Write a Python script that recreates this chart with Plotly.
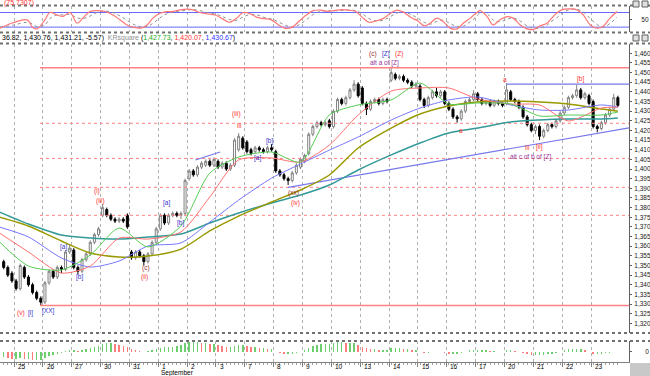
import plotly.graph_objects as go

W, H = 650, 376

# ---------------- data ----------------
opens = [1352,1349,1346,1342,1338,1349,1344,1340,1336,1333,
         1331,1341,1347,1344,1349,1348,1357,
         1358,1349,1347,1353,1356,1362,1366,
         1376,1379,1376,1374,1373,1374,1376,
         1357,1354,1357,1355,1352,1356,1362,
         1369,1376,1372,1376,1377,1376,1377,
         1395,1399,1397,1401,1402,1404,1402,
         1404,1401,1403,1400,1402,1410,1416,
         1414,1410,1409,1411,1410,1409,1411,
         1409,1399,1397,1395,1394,1398,1401,
         1404,1408,1418,1422,1424,1423,1425,
         1422,1430,1436,1434,1437,1441,1444,
         1442,1434,1431,1435,1436,1434,1436,
         1446,1449,1447,1448,1446,1445,1443,
         1443,1436,1433,1437,1440,1438,1440,
         1434,1431,1427,1426,1430,1435,1436,
         1439,1436,1434,1435,1433,1435,1434,
         1434,1440,1436,1435,1432,1427,1423,
         1420,1422,1417,1420,1423,1422,1425,
         1429,1432,1437,1438,1441,1437,1438,
         1435,1422,1421,1424,1428,1431,1437]
highs = [1353,1350,1347,1343,1351,1350,1345,1341,1337,1334,
         1342,1348,1348,1350,1350,1358,1361,
         1359,1350,1354,1357,1363,1367,1370,
         1382,1380,1377,1375,1375,1375,1377,
         1358,1358,1358,1356,1357,1363,1370,
         1377,1377,1377,1378,1378,1378,1395,
         1400,1400,1402,1404,1405,1405,1406,
         1405,1404,1404,1403,1416,1418.6,1417,
         1415,1411,1412,1412,1411,1412,1413,
         1410,1400,1398,1396,1399,1403,1406,
         1408,1419,1423,1425,1425,1425,1426,
         1431,1437,1437,1438,1442,1446,1445,
         1443,1435,1436,1437,1437,1437,1437,
         1452.3,1450,1449,1449,1447,1446,1445,
         1444,1437,1438,1441,1442,1441,1441,
         1435,1432,1428,1431,1436,1437,1441,
         1440,1437,1436,1436,1436,1436,1435,
         1444.5,1441,1437,1436,1433,1428,1424,
         1423,1423,1421,1424,1424,1426,1430,
         1433,1438,1439,1443.5,1442,1440,1439,
         1436,1423,1425,1429,1432,1439,1438]
lows = [1348,1344,1341,1337,1337,1343,1339,1335,1332,1329.3,
        1330,1340,1343,1343,1346,1347,1356,
        1348,1345.5,1346,1352,1355,1361,1365,
        1375,1375,1373,1372,1372,1372,1369,
        1353,1353,1354,1350,1351,1355,1361,
        1368,1371,1371,1375,1375,1374,1376,
        1394,1396,1396,1400,1401,1401,1401,
        1400,1400,1399,1399,1401,1409,1410,
        1408,1407,1408,1409,1408,1408,1409,
        1398,1396,1394,1391.7,1393,1397,1400,
        1403,1407,1417,1421,1422,1422,1421,
        1421,1429,1433,1433,1436,1440,1437,
        1433,1428,1430,1434,1433,1433,1434,
        1445,1446,1446,1445,1444,1442,1442,
        1435,1431.6,1432,1436,1437,1437,1433,
        1430,1426,1424,1425,1429,1434,1435,
        1435,1433,1433,1432,1432,1433,1432,
        1433,1435,1434,1431,1426,1422,1419,
        1418,1415,1416,1419,1421,1421,1424,
        1428,1431,1436,1437,1436,1436,1433,
        1421,1419,1420,1423,1427,1430,1432]
closes = [1349,1345,1342,1338,1350,1344,1340,1336,1333,1331,
          1341,1347,1344,1349,1348,1357,1359,
          1349,1347,1353,1356,1362,1366,1369,
          1380,1376,1374,1373,1374,1373,1370,
          1354,1357,1355,1352,1356,1362,1369,
          1376,1372,1376,1377,1376,1377,1394,
          1399,1397,1401,1403,1404,1402,1405,
          1401,1403,1400,1402,1415,1417,1411,
          1409,1408,1411,1410,1409,1411,1410,
          1399,1397,1395,1394,1398,1402,1405,
          1407,1418,1422,1424,1423,1424,1422,
          1430,1436,1434,1437,1441,1444,1438,
          1434,1431,1435,1436,1434,1436,1435,
          1450,1447,1448,1446,1445,1443,1444,
          1436,1433,1437,1440,1438,1440,1434,
          1431,1427,1426,1430,1435,1436,1439,
          1436,1434,1435,1433,1435,1434,1433,
          1441,1436,1435,1432,1427,1423,1420,
          1422,1417,1420,1423,1422,1425,1429,
          1432,1437,1438,1441,1437,1439,1434,
          1422,1421,1424,1428,1431,1437,1433]

# moving averages sampled at bar positions
ma_bar = [-1, 6, 14, 21, 28, 35, 43, 50, 57, 65, 72, 79, 86, 94, 101, 108, 115, 123, 130, 137, 145, 149]
ma_teal = [1377.7,1371.5,1365.8,1364.2,1363.7,1364.8,1366.3,1372.0,1377.2,1382.4,1386.5,1391.7,1399.5,1407.3,1413.5,1418.7,1421.2,1424.4,1425.4,1425.9,1425.9,1426.4]
ma_olive = [1375.1,1370.5,1362.7,1356.5,1354.4,1354.9,1358.5,1367.9,1375.6,1382.9,1389.1,1396.9,1410.9,1421.2,1428.5,1432.7,1434.7,1435.2,1434.7,1433.7,1431.1,1430.0]
ma_blue = [1369.9,1364.8,1353.9,1349.2,1352.3,1360.1,1361.7,1372.5,1383.9,1395.3,1402.6,1409.8,1416.6,1425.4,1431.6,1435.8,1437.3,1433.2,1430.6,1430.6,1433.2,1432.1]
ma_red = [1366.8,1357.0,1346.1,1349.7,1364.2,1363.7,1367.4,1385.5,1404.7,1405.7,1403.6,1412.4,1428.0,1440.4,1442.0,1442.0,1436.3,1433.7,1433.2,1424.9,1431.6,1432.1]
ma_green = [1362.2,1349.7,1347.7,1355.4,1369.4,1359.6,1370.5,1397.9,1406.2,1408.8,1403.6,1428.0,1433.2,1435.8,1444.6,1433.7,1434.2,1433.7,1427.5,1428.0,1428.0,1429.5]

# horizontal levels
red_solid_levels = [1452.5, 1329.2]
red_dot_levels = [1423.7, 1405.5, 1390.5, 1376.0]
level_start_bar = 8.8
blue_level = 1444.0
blue_level_start = 122
# trendlines (bar, price)
trend_long_bar = [69, 151.7]
trend_long_price = [1390.5, 1421.3]
trend_short_bar = [46.5, 52.5]
trend_short_price = [1404.7, 1408.8]

# stochastic
stoch_bar = [-0.9,2.3,5.7,7.1,8.1,10,11.2,12.9,14.4,16.1,17.8,19.2,20.9,22.6,24.6,26.5,28.2,29.9,31.4,33.1,
             34.8,36.2,37.9,39.6,41.1,42.8,44.5,45.9,47.6,49.3,51.3,53,54.7,56.4,58.1,59.8,61.5,63.2,64.9,66.6,
             68.3,70,71.7,73.4,75.1,76.8,78.5,80.2,81.9,83.6,85.3,87,88.6,90.3,92,93.7,95.4,97.1,98.8,100.5,
             102,103.4,105.1,106.6,108.3,110,111.5,113.2,114.8,115.6,117.3,118.7,120.4,122.1,123.6,125.3,127,128.4,130.1,131.8,
             132.6,134.3,135.7,137.4,139.1,140.6,142.3,144,145.4,147.1,148.8]
stoch_k = [16,38,50,17,13,50,80,70,64,80,36,57,84,88,84,70,50,29,20,16,
           29,57,77,84,84,91,94,91,80,75,70,55,40,55,80,75,60,55,50,30,
           15,20,45,70,88,90,85,88,92,90,85,60,40,45,55,75,90,80,60,45,
           25,36,57,43,16,13,36,57,80,88,63,29,50,63,57,29,13,10,25,36,
           50,80,93,95,91,70,29,16,23,57,84]
stoch_d = [20,28,40,32,22,30,55,70,70,72,58,55,65,80,86,80,66,48,32,22,
           22,36,58,75,82,86,90,92,88,80,74,64,52,48,62,72,70,60,54,42,
           28,20,30,50,72,85,87,87,88,90,88,75,55,46,48,62,78,82,72,56,
           40,32,44,48,35,22,24,42,65,80,75,50,42,52,58,45,25,15,16,28,
           40,60,80,92,93,82,55,30,20,35,62]
stoch_levels = [80, 20]

# histogram
hist_vals = [-5,-6,-7,-7,-6,-7,-7,-8,-8,-8,
             -6,-4,-3,-2,-1,0.5,1,
             1,0.5,1,2,3,4,5,
             7,8,8,7,6,5,4,
             2,1,0.5,0,0.5,1,2,
             3,4,4,4,5,6,8,
             9,9,9,8,8,7,7,
             6,5,4,4,5,6,6,
             5,4,4,3,3,2,2,
             0,-1,-2,-2,-2,-1,0,
             1,3,5,6,7,7,7,
             8,9,9,8,8,8,6,
             4,3,2,2,1,1,1,
             3,3,3,2,2,1,1,
             0,-1,-1,0,0,0,-1,
             -2,-2,-2,-1,0,1,1,
             1,1,1,0.5,0.5,0,0,
             1,1,0.5,0,-1,-2,-3,
             -3,-3,-3,-2,-2,-1,0,
             1,2,2,2,2,1,0,
             -2,-2,-2,-1,-1,0,0]

day_labels = ["25","26","27","30","31","1","2","3","7","8","9","10","13","14","15","16","17","20","21","22","23"]
month_label = "September"
month_label_day = 5

price_ticks = list(range(1320, 1461, 5))

wave_labels = [
    ("(c)", 89.6, 1459.6, "#993333"), ("[Z]", 92.8, 1459.6, "#3333cc"), ("(Z)", 95.9, 1459.6, "#ff3333"),
    ("alt a of [Z]", 92.5, 1454.9, "#993399"),
    ("(iii)", 56.4, 1428.5, "#ff3333"), ("iii", 57.2, 1422.3, "#ff3333"),
    ("[b]", 64.6, 1414.5, "#3333cc"), ("[a]", 61.5, 1405.7, "#3333cc"),
    ("a", 121.6, 1446.6, "#ff3333"), ("[b]", 140.0, 1446.5, "#ff3333"), ("a", 111.0, 1420.2, "#ff3333"),
    ("iii", 127.0, 1411.2, "#ff3333"), ("[ii]", 130.1, 1411.2, "#ff3333"),
    ("alt c of b of [Z]", 127.7, 1406.2, "#993399"),
    ("(i)", 22.6, 1388.6, "#ff3333"), ("(iii)", 23.4, 1383.4, "#ff3333"),
    ("[a]", 39.4, 1382.4, "#3333cc"), ("[b]", 42.8, 1372.0, "#3333cc"),
    ("[a]", 14.4, 1359.6, "#3333cc"), ("[b]", 18.3, 1344.0, "#3333cc"),
    ("(c)", 34.5, 1348.7, "#993333"), ("(ii)", 34.1, 1344.0, "#ff3333"),
    ("(v)", 4.2, 1325.4, "#ff3333"), ("[i]", 6.4, 1325.4, "#3333cc"), ("[XX]", 10.8, 1326.4, "#3333cc"),
    ("(xx)", 70.2, 1387.6, "#993333"), ("(iv)", 70.7, 1382.4, "#ff3333"),
]

# ---------------- figure ----------------
FONT = "Liberation Sans"
n = len(closes)
bars = list(range(n))
day_bounds = [2.5 + 7 * k for k in range(len(day_labels))]
XR = [-0.9, 151.7]
XD = [0, 629 / W]

def yp(p):
    return 1 - p / H

fig = go.Figure()

for lv in red_solid_levels:
    fig.add_trace(go.Scatter(x=[level_start_bar, XR[1]], y=[lv, lv], mode="lines",
                             line=dict(color="#ff8080", width=1.5), xaxis="x", yaxis="y", hoverinfo="skip"))
for lv in red_dot_levels:
    fig.add_trace(go.Scatter(x=[level_start_bar, XR[1]], y=[lv, lv], mode="lines",
                             line=dict(color="#ff8080", width=1, dash="dot"), xaxis="x", yaxis="y", hoverinfo="skip"))
fig.add_trace(go.Scatter(x=[blue_level_start, XR[1]], y=[blue_level, blue_level], mode="lines",
                         line=dict(color="#7777ee", width=1.2), xaxis="x", yaxis="y", hoverinfo="skip"))
fig.add_trace(go.Scatter(x=trend_long_bar, y=trend_long_price, mode="lines",
                         line=dict(color="#7777ee", width=1.2), xaxis="x", yaxis="y", hoverinfo="skip"))
fig.add_trace(go.Scatter(x=trend_short_bar, y=trend_short_price, mode="lines",
                         line=dict(color="#7777ee", width=1.2), xaxis="x", yaxis="y", hoverinfo="skip"))

for vals, col, w in [(ma_teal, "#339999", 1.5), (ma_olive, "#999900", 1.5), (ma_blue, "#7777ff", 1),
                     (ma_red, "#ff7070", 1), (ma_green, "#55cc55", 1)]:
    fig.add_trace(go.Scatter(x=ma_bar, y=vals, mode="lines",
                             line=dict(color=col, width=w, shape="spline", smoothing=0.7),
                             xaxis="x", yaxis="y", hoverinfo="skip"))

fig.add_trace(go.Candlestick(x=bars, open=opens, high=highs, low=lows, close=closes,
                             increasing=dict(line=dict(color="#808080", width=1), fillcolor="white"),
                             decreasing=dict(line=dict(color="black", width=1), fillcolor="black"),
                             whiskerwidth=0, xaxis="x", yaxis="y", hoverinfo="skip"))

for lv in stoch_levels:
    fig.add_trace(go.Scatter(x=XR, y=[lv, lv], mode="lines", line=dict(color="#6666ff", width=1),
                             xaxis="x2", yaxis="y2", hoverinfo="skip"))
fig.add_trace(go.Scatter(x=stoch_bar, y=stoch_d, mode="lines",
                         line=dict(color="#909090", width=1, dash="dot", shape="spline"),
                         xaxis="x2", yaxis="y2", hoverinfo="skip"))
fig.add_trace(go.Scatter(x=stoch_bar, y=stoch_k, mode="lines",
                         line=dict(color="#ff7777", width=1.2, shape="spline"),
                         xaxis="x2", yaxis="y2", hoverinfo="skip"))

hist_colors = []
prev = None
for v in hist_vals:
    hist_colors.append("rgba(60,190,60,0.75)" if (prev is None or v >= prev) else "rgba(255,80,80,0.75)")
    prev = v
fig.add_trace(go.Bar(x=bars, y=hist_vals, marker=dict(color=hist_colors, line=dict(width=0)),
                     width=0.35, xaxis="x3", yaxis="y3", hoverinfo="skip"))

axis_common = dict(range=XR, domain=XD, tickvals=day_bounds, showticklabels=False,
                   showgrid=True, gridcolor="#b0b0b0", griddash="dot", gridwidth=1,
                   zeroline=False, fixedrange=True)
yfont = dict(size=6.5, family=FONT, color="#202020")
fig.update_layout(
    width=W, height=H, margin=dict(l=0, r=0, t=0, b=0),
    paper_bgcolor="white", plot_bgcolor="white", showlegend=False,
    font=dict(family=FONT, size=7, color="black"), bargap=0,
    xaxis=dict(anchor="y", rangeslider=dict(visible=False), ticks="", **axis_common),
    xaxis2=dict(anchor="y2", matches="x", ticks="", **axis_common),
    xaxis3=dict(anchor="y3", matches="x", showline=True, linecolor="#808080", ticks="outside",
                ticklen=4, tickcolor="#808080",
                minor=dict(tickvals=bars, ticks="outside", ticklen=2, tickcolor="#a0a0a0", showgrid=False),
                **axis_common),
    yaxis=dict(anchor="x", side="right", domain=[yp(333), yp(44)], range=[1315, 1464.8],
               tickvals=price_ticks, ticktext=[f"{t:,}" for t in price_ticks],
               ticks="outside", ticklen=2, tickcolor="#606060", showgrid=False, zeroline=False,
               showline=True, linecolor="#606060", tickfont=yfont, fixedrange=True,
               ticklabeloverflow="allow", ticklabelstandoff=1),
    yaxis2=dict(anchor="x2", side="right", domain=[yp(32), yp(5.7)], range=[0, 108],
                tickvals=[50], ticktext=["50"], ticks="outside", ticklen=2, tickcolor="#606060",
                showgrid=False, zeroline=False, showline=True, linecolor="#606060",
                tickfont=yfont, fixedrange=True, ticklabeloverflow="allow", ticklabelstandoff=8),
    yaxis3=dict(anchor="x3", side="right", domain=[yp(362), yp(341)], range=[-10, 10],
                tickvals=[0], ticktext=["0"], ticks="outside", ticklen=2, tickcolor="#606060",
                showgrid=False, zeroline=False, showline=True, linecolor="#606060",
                tickfont=yfont, fixedrange=True, ticklabeloverflow="allow", ticklabelstandoff=12),
)

shapes = []
for ypx in [5.5, 32.5, 43.5, 333, 341]:
    shapes.append(dict(type="line", xref="paper", yref="paper", x0=0, x1=1, y0=yp(ypx), y1=yp(ypx),
                       line=dict(color="#707070", width=2, dash="dot")))
shapes.append(dict(type="rect", xref="paper", yref="paper", x0=630 / W, x1=1, y0=0, y1=yp(363),
                   fillcolor="#c8c8c8", line=dict(width=0)))
for y0, y1 in [(1, 7), (35, 41)]:
    for x0 in (633, 642):
        shapes.append(dict(type="rect", xref="paper", yref="paper", x0=x0 / W, x1=(x0 + 6) / W,
                           y0=yp(y1), y1=yp(y0), fillcolor="#e0e0e0", line=dict(color="#606060", width=1)))
fig.update_layout(shapes=shapes)

ann = []
ann.append(dict(text="(75.7307)", x=2 / W, y=yp(3), xref="paper", yref="paper", xanchor="left",
                yanchor="middle", showarrow=False, font=dict(color="#ff3333", size=7)))
hdr = ("36.82, 1,430.76, 1,431.21, -5.57)  <span style='color:#909090'>KRsquare</span> ("
       "<span style='color:#22aa22'>1,427.73</span>, <span style='color:#ff3333'>1,420.07</span>, "
       "<span style='color:#3333ff'>1,430.67</span>)")
ann.append(dict(text=hdr, x=0, y=yp(38), xref="paper", yref="paper", xanchor="left", yanchor="middle",
                showarrow=False, font=dict(size=7)))
for t, b, p, c in wave_labels:
    ann.append(dict(text=t, x=b, y=p, xref="x", yref="y", showarrow=False,
                    font=dict(color=c, size=6.5), xanchor="center", yanchor="middle"))
for k, lab in enumerate(day_labels):
    ann.append(dict(text=lab, x=day_bounds[k] + 0.4, y=yp(366), xref="x", yref="paper", xanchor="left",
                    yanchor="middle", showarrow=False, font=dict(size=6.5)))
ann.append(dict(text=month_label, x=day_bounds[month_label_day] + 0.2, y=yp(373), xref="x", yref="paper",
                xanchor="left", yanchor="middle", showarrow=False, font=dict(size=6.5)))
fig.update_layout(annotations=ann)

fig.write_html("out.html", config={"displayModeBar": False, "staticPlot": True},
               post_script="document.body.style.margin='0';document.body.style.overflow='hidden';")
